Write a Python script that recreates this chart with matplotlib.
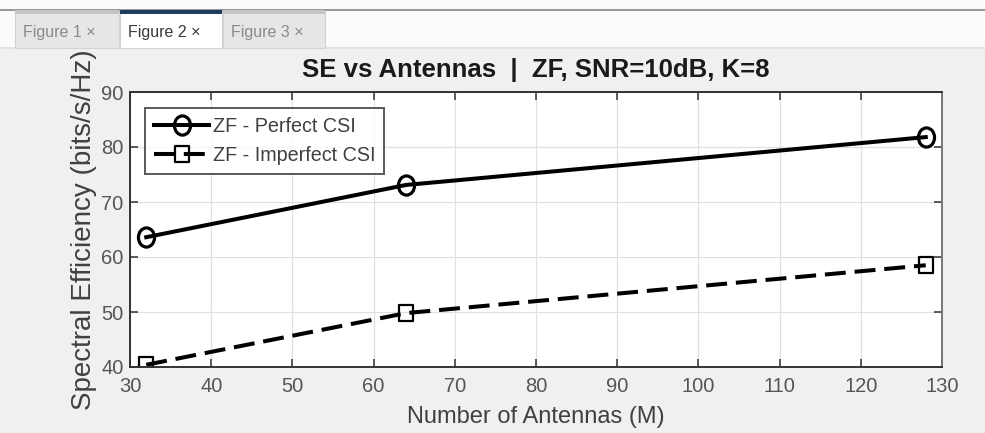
import matplotlib
matplotlib.use("Agg")
import matplotlib.pyplot as plt
from matplotlib.patches import Rectangle
from matplotlib.path import Path
from matplotlib.transforms import Affine2D

plt.rcParams['font.family'] = ['Liberation Sans', 'DejaVu Sans']

antennas = [32, 64, 128]
se_perfect = [63.6, 73.1, 81.8]
se_imperfect = [40.4, 49.8, 58.5]
xticks = [30, 40, 50, 60, 70, 80, 90, 100, 110, 120, 130]
yticks = [40, 50, 60, 70, 80, 90]
tab_labels = ["Figure 1", "Figure 2", "Figure 3"]

W, H = 985, 433
fig = plt.figure(figsize=(W/100, H/100), dpi=100, facecolor='#f0f0f0')

def frect(x0, y0, x1, y1, fc, z=10, ec='none', lw=0):
    fig.patches.append(Rectangle((x0/W, 1 - y1/H), (x1 - x0)/W, (y1 - y0)/H,
                                 transform=fig.transFigure, facecolor=fc,
                                 edgecolor=ec, lw=lw, zorder=z))

# window chrome / tab bar
frect(0, 0, W, 48, '#fbfbfb', z=10)
frect(0, 9, W, 11, '#9a9a9a', z=11)
frect(0, 47, W, 49, '#e2e2e2', z=11)
tab_x = [(15, 119), (120, 222), (223, 325)]
for i, ((x0, x1), lab) in enumerate(zip(tab_x, tab_labels)):
    active = (i == 1)
    frect(x0, 11, x1, 48, 'white' if active else '#e6e6e6', z=12,
          ec='#d2d2d2', lw=0.8)
    frect(x0, 10, x1, 14, '#1d3d5c' if active else '#c4c4c4', z=13)
    fig.text((x0 + 8)/W, 1 - 33/H, lab + " \u00d7", fontsize=11.5,
             color='#3a3a3a' if active else '#8a8a8a', va='center', ha='left',
             zorder=14)

ax = fig.add_axes([130/W, 1 - 367/H, (942 - 130)/W, (367 - 92)/H])
ax.set_facecolor('white')

# ellipse / narrow-square markers (screenshot is horizontally squeezed)
circ = Path.unit_circle().transformed(Affine2D().scale(0.84, 1.0))
sq = Path([(-0.78, -1), (0.78, -1), (0.78, 1), (-0.78, 1), (-0.78, -1)],
          [Path.MOVETO, Path.LINETO, Path.LINETO, Path.LINETO, Path.CLOSEPOLY])

ax.plot(antennas, se_perfect, '-', marker=circ, color='black', lw=2.9, ms=13.8,
        mfc='none', mew=2.3, label='ZF - Perfect CSI')
ax.plot(antennas, se_imperfect, '--', marker=sq, color='black', lw=2.9, ms=12,
        mfc='none', mew=1.6, dashes=(5.2, 2.2), label='ZF - Imperfect CSI')

ax.set_xlim(30, 130)
ax.set_ylim(40, 90)
ax.set_xticks(xticks)
ax.set_yticks(yticks)
ax.grid(True, color='#e0e0e0', lw=0.9)
ax.set_axisbelow(True)
ax.tick_params(direction='in', top=True, right=True, length=6, width=1.2,
               colors='#404040', labelcolor='#555555', labelsize=14.5)
ax.tick_params(axis='y', pad=4.5)
ax.tick_params(axis='x', pad=7.5)
for s in ax.spines.values():
    s.set_color('#333333')
    s.set_linewidth(1.4)
ax.spines['right'].set_color('#777777')

ax.set_title('SE vs Antennas  |  ZF, SNR=10dB, K=8', fontsize=18.5,
             fontweight='bold', color='#1a1a1a', pad=11)
ax.set_xlabel('Number of Antennas (M)', fontsize=17, color='#404040',
              labelpad=7)
ax.set_ylabel('Spectral Efficiency (bits/s/Hz)', fontsize=20,
              color='#404040', labelpad=3)

leg = ax.legend(loc='upper left', bbox_to_anchor=(0.0185, 0.942),
                borderaxespad=0, fontsize=14.2,
                frameon=True, fancybox=False, edgecolor='#303030',
                handlelength=2.8, handletextpad=0.2, borderpad=0.45,
                labelspacing=0.5, labelcolor='#404040')
leg.get_frame().set_linewidth(1.4)

fig.savefig('out.png', dpi=100, facecolor=fig.get_facecolor())
